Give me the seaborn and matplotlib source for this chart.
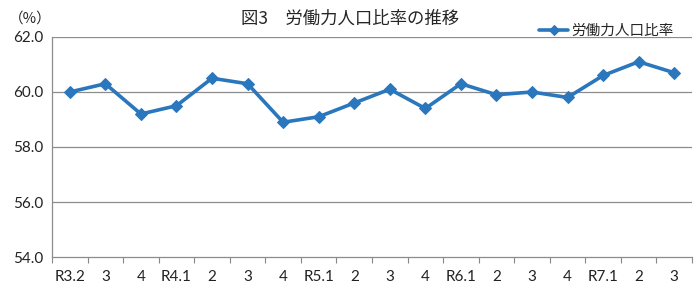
import matplotlib
matplotlib.use("Agg")
import matplotlib.pyplot as plt
import seaborn as sns
import pandas as pd

periods = ["R3.2", "3", "4", "R4.1", "2", "3", "4", "R5.1", "2", "3", "4",
           "R6.1", "2", "3", "4", "R7.1", "2", "3"]
values = [60.0, 60.3, 59.2, 59.5, 60.5, 60.3, 58.9, 59.1, 59.6, 60.1, 59.4,
          60.3, 59.9, 60.0, 59.8, 60.6, 61.1, 60.7]
series_name = "労働力人口比率"
title = "図3　労働力人口比率の推移"
y_ticks = [54.0, 56.0, 58.0, 60.0, 62.0]

sns.set_theme(style="white")
plt.rcParams["font.family"] = ["Noto Sans CJK JP", "DejaVu Sans"]

df = pd.DataFrame({"idx": range(len(periods)), "value": values})

fig = plt.figure(figsize=(7.0, 2.89), dpi=100)
ax = fig.add_axes([0.0743, 0.1107, 0.9143, 0.7613])

color = "#2a77bd"
sns.lineplot(data=df, x="idx", y="value", ax=ax, color=color, linewidth=2.6,
             marker="D", markersize=6.5, markeredgecolor=color,
             markerfacecolor=color, label=series_name)

ax.set_ylim(54, 62)
ax.set_xlim(-0.5, len(periods) - 0.5)
ax.set_yticks(y_ticks)
ax.set_yticklabels([f"{v:.1f}" for v in y_ticks], fontsize=11,
                   family=["Lato", "DejaVu Sans"])
ax.set_xticks(range(len(periods)))
ax.set_xticklabels(periods, fontsize=11, family=["Lato", "DejaVu Sans"])
ax.set_xticks([i - 0.5 for i in range(len(periods) + 1)], minor=True)
ax.tick_params(axis="x", which="major", length=0, pad=9, colors="#222222")
ax.tick_params(axis="x", which="minor", length=4, width=0.8, color="#888888",
               direction="out", bottom=True)
ax.tick_params(axis="y", which="major", length=0, pad=6, colors="#222222")
ax.set_xlabel("")
ax.set_ylabel("")

for y in y_ticks[1:]:
    ax.axhline(y, color="#8c8c8c", linewidth=0.9, zorder=0)

for s in ["top", "right"]:
    ax.spines[s].set_visible(False)
ax.spines["left"].set_color("#8c8c8c")
ax.spines["bottom"].set_color("#8c8c8c")
ax.spines["left"].set_linewidth(0.9)
ax.spines["bottom"].set_linewidth(0.9)

leg = ax.legend(loc="upper left", bbox_to_anchor=(0.752, 1.085), frameon=False,
                fontsize=10.5, handlelength=2.0, handletextpad=0.2,
                borderaxespad=0, markerscale=0.8)

fig.text(0.5, 0.935, title, ha="center", va="center", fontsize=12.5)
fig.text(0.012, 0.935, "（%）", ha="left", va="center", fontsize=10.5)

fig.savefig("out.png", dpi=100)
